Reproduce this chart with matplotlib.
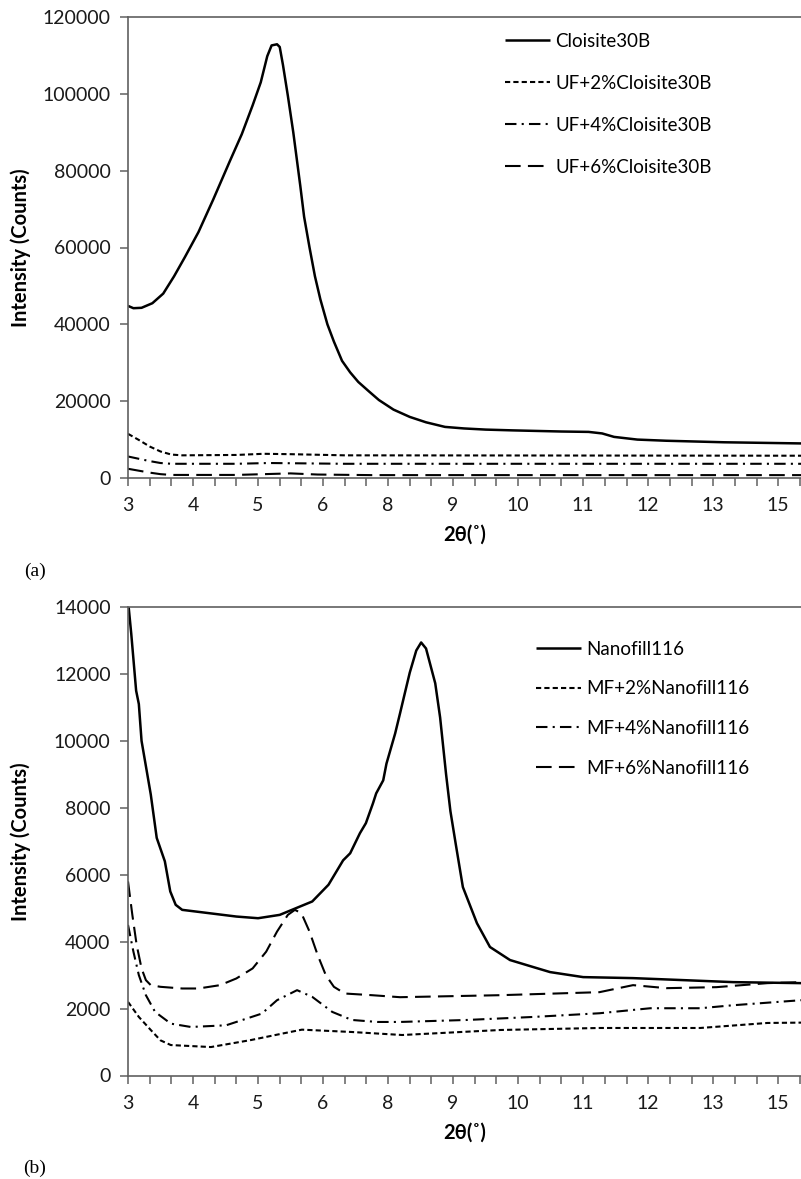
import numpy as np
import matplotlib
matplotlib.use('Agg')
from matplotlib import pyplot as plt

plt.rcParams['font.family'] = ['Lato', 'DejaVu Sans']

# x axis labels as printed on the chart (evenly spaced, 3 minor ticks per label)
tick_labels = ['3', '4', '5', '6', '8', '9', '10', '11', '12', '13', '15']
tick_pos = [3 + 1.2 * i for i in range(len(tick_labels))]

# (a) Cloisite30B series
cl_x = [3.0, 3.1, 3.25, 3.45, 3.65, 3.85, 4.05, 4.3, 4.57, 4.88, 5.1, 5.3, 5.45, 5.57, 5.65, 5.75,
        5.8, 5.86, 5.95, 6.05, 6.18, 6.25, 6.35, 6.45, 6.55, 6.68, 6.8, 6.95, 7.1, 7.25, 7.45,
        7.63, 7.9, 8.2, 8.5, 8.85, 9.2, 9.6, 10.09, 11.0, 11.5, 11.75, 11.97, 12.4, 12.93, 14.0, 15.42]
cl_y = [44800, 44200, 44300, 45500, 48000, 52500, 57500, 64000, 72400, 82500, 89500, 97000, 103000,
        109800, 112600, 112900, 112200, 107500, 99500, 90000, 76000, 68000, 60000, 52500, 46500,
        40000, 35500, 30500, 27500, 25000, 22500, 20300, 17800, 15900, 14500, 13300, 12900, 12600,
        12400, 12100, 12000, 11600, 10700, 10000, 9700, 9300, 9000]

uf2_x = [3.0, 3.2, 3.4, 3.6, 3.8, 4.0, 5.0, 5.5, 6.0, 7.0, 15.42]
uf2_y = [11500, 9900, 8200, 6900, 6100, 5900, 6000, 6300, 6200, 5900, 5800]
uf4_x = [3.0, 3.2, 3.4, 3.6, 3.8, 5.0, 5.6, 7.0, 15.42]
uf4_y = [5600, 5000, 4400, 3900, 3700, 3700, 3900, 3700, 3700]
uf6_x = [3.0, 3.2, 3.4, 3.6, 3.8, 5.0, 5.5, 6.0, 6.5, 7.5, 15.42]
uf6_y = [2400, 1900, 1400, 1000, 800, 800, 1000, 1200, 900, 750, 750]

# (b) Nanofill116 series
nf_x = [3.0, 3.06, 3.15, 3.2, 3.25, 3.42, 3.53, 3.68, 3.78, 3.88, 4.0, 4.5, 5.0, 5.4, 5.8, 6.1,
        6.4, 6.7, 6.97, 7.1, 7.28, 7.39, 7.52, 7.58, 7.71, 7.77, 7.93, 8.02, 8.12, 8.2, 8.32,
        8.41, 8.5, 8.67, 8.76, 8.87, 8.95, 9.05, 9.18, 9.44, 9.68, 10.05, 10.48, 10.79, 11.4,
        12.32, 13.25, 14.17, 15.42]
nf_y = [14200, 13200, 11500, 11100, 10000, 8400, 7100, 6400, 5500, 5100, 4950, 4850, 4750, 4700,
        4800, 5000, 5200, 5700, 6430, 6640, 7240, 7540, 8130, 8430, 8820, 9320, 10220, 10820,
        11500, 12040, 12700, 12940, 12760, 11720, 10700, 9000, 7900, 6900, 5630, 4550, 3840,
        3450, 3240, 3090, 2940, 2910, 2850, 2790, 2760]

mf2_x = [3.0, 3.2, 3.42, 3.6, 3.79, 4.53, 5.27, 5.84, 6.21, 7.13, 8.06, 9.87, 11.7, 13.56, 14.8, 15.42]
mf2_y = [2200, 1750, 1360, 1050, 910, 850, 1060, 1250, 1370, 1300, 1210, 1360, 1420, 1420, 1570, 1580]
mf4_x = [3.0, 3.1, 3.2, 3.33, 3.5, 3.79, 4.16, 4.81, 5.47, 5.75, 6.12, 6.4, 6.77, 7.13, 7.6, 8.02,
         9.26, 10.48, 11.7, 12.64, 13.56, 14.17, 15.42]
mf4_y = [4500, 3700, 3000, 2400, 1900, 1550, 1450, 1500, 1850, 2250, 2550, 2350, 1900, 1660, 1600,
         1600, 1660, 1750, 1860, 2010, 2010, 2100, 2250]
mf6_x = [3.0, 3.08, 3.16, 3.25, 3.33, 3.42, 3.6, 4.0, 4.3, 4.7, 5.0, 5.3, 5.55, 5.75, 5.95, 6.08,
         6.2, 6.35, 6.5, 6.65, 6.8, 7.0, 7.5, 8.02, 9.87, 11.7, 12.32, 12.94, 13.86, 14.8, 15.42]
mf6_y = [5800, 4800, 3900, 3200, 2850, 2700, 2650, 2600, 2600, 2700, 2900, 3200, 3700, 4300, 4800,
         4950, 4850, 4300, 3600, 3000, 2650, 2450, 2400, 2340, 2400, 2490, 2700, 2610, 2640, 2760, 2790]

styles = [dict(ls='-', lw=1.8),
          dict(ls=(0, (2.5, 1.5)), lw=1.5),
          dict(ls=(0, (5.5, 2.5, 1, 2.5)), lw=1.5),
          dict(ls=(0, (7.5, 3.5)), lw=1.5)]

fig = plt.figure(figsize=(8.01, 11.79), dpi=100)
W, H = 801.0, 1179.0
ax1 = fig.add_axes([128 / W, 1 - 478 / H, 673 / W, 461 / H])
ax2 = fig.add_axes([128 / W, 1 - 1075.5 / H, 673 / W, 468.5 / H])

panels = [
    (ax1, [(cl_x, cl_y), (uf2_x, uf2_y), (uf4_x, uf4_y), (uf6_x, uf6_y)],
     ['Cloisite30B', 'UF+2%Cloisite30B', 'UF+4%Cloisite30B', 'UF+6%Cloisite30B'],
     (0, 120000), 20000, (505, 33), 1.33),
    (ax2, [(nf_x, nf_y), (mf2_x, mf2_y), (mf4_x, mf4_y), (mf6_x, mf6_y)],
     ['Nanofill116', 'MF+2%Nanofill116', 'MF+4%Nanofill116', 'MF+6%Nanofill116'],
     (0, 14000), 2000, (536, 641), 1.2),
]

for ax, series, names, ylim, ystep, leg_at, spacing in panels:
    for (x, y), st, name in zip(series, styles, names):
        ax.plot(x, y, color='black', label=name, solid_capstyle='butt', **st)
    ax.set_xlim(3, 15.42)
    ax.set_ylim(*ylim)
    ax.set_yticks(np.arange(ylim[0], ylim[1] + 1, ystep))
    ax.set_xticks(tick_pos)
    ax.set_xticklabels(tick_labels)
    ax.set_xticks(np.arange(3, 15.42, 0.4), minor=True)
    ax.spines['right'].set_visible(False)
    for side in ['left', 'bottom', 'top']:
        ax.spines[side].set_color('#606060')
        ax.spines[side].set_linewidth(1.2)
    ax.tick_params(axis='both', which='both', direction='out', length=6, width=1.1,
                   color='#606060', labelsize=14, labelcolor='#1a1a1a')
    ax.tick_params(axis='x', which='major', pad=8)
    ax.tick_params(axis='y', which='major', pad=6.5)
    ax.set_ylabel('Intensity (Counts)', fontsize=14.5, fontweight='bold')
    ax.yaxis.set_label_coords(-(128 - 31) / 673, 0.5)
    ax.set_xlabel('2θ(˚)', fontsize=14.5, fontweight='bold')
    ax.xaxis.set_label_coords(0.5, -47 / (ax.get_position().height * H))
    ax.legend(loc='upper left', bbox_to_anchor=(leg_at[0] / W, 1 - leg_at[1] / H),
              bbox_transform=fig.transFigure, frameon=False, fontsize=13.5,
              handlelength=2.4, handletextpad=0.3, labelspacing=spacing,
              borderpad=0, borderaxespad=0)

fig.text(35 / W, 1 - 571 / H, '(a)', fontsize=14, family=['Liberation Serif', 'DejaVu Serif'],
         ha='center', va='center')
fig.text(35 / W, 1 - 1168 / H, '(b)', fontsize=14, family=['Liberation Serif', 'DejaVu Serif'],
         ha='center', va='center')

fig.savefig('out.png', dpi=100)
